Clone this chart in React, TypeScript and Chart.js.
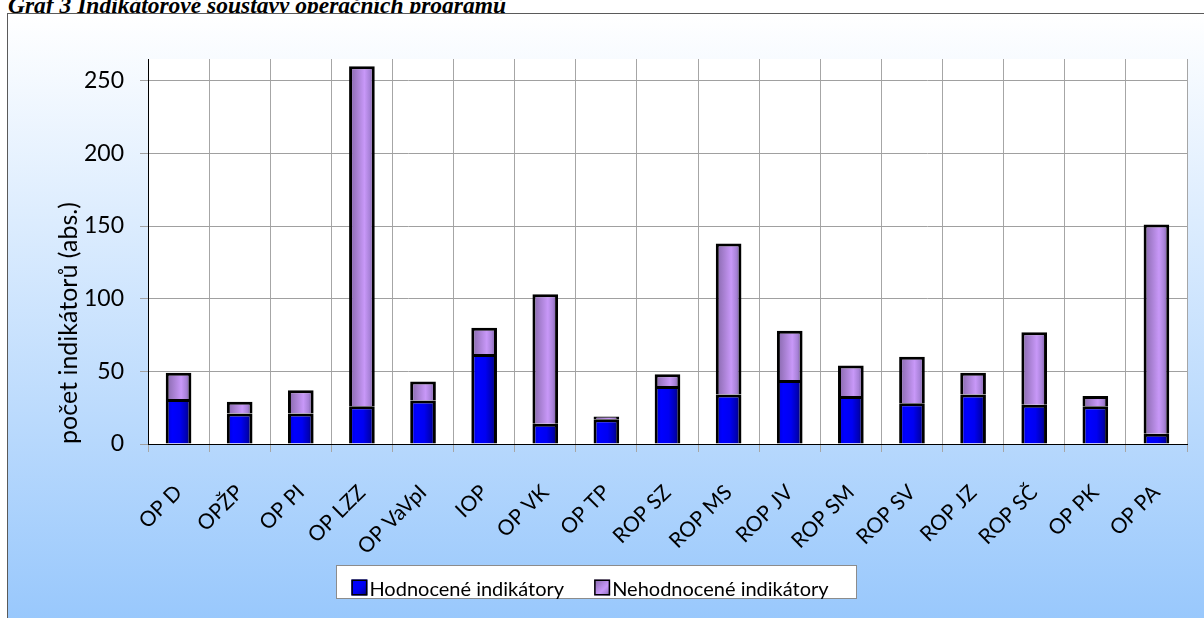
import React, { useEffect, useRef } from "react";
import { Chart, registerables } from "chart.js";

Chart.register(...registerables);

const categories = [
  "OP D", "OPŽP", "OP PI", "OP LZZ", "OP VaVpI", "IOP", "OP VK", "OP TP", "ROP SZ",
  "ROP MS", "ROP JV", "ROP SM", "ROP SV", "ROP JZ", "ROP SČ", "OP PK", "OP PA",
];
const evaluated = [31, 21, 21, 26, 30, 62, 14, 17, 40, 34, 44, 33, 28, 34, 27, 26, 7];
const notEvaluated = [18, 8, 16, 234, 13, 18, 89, 2, 8, 104, 34, 21, 32, 15, 50, 7, 144];
const yTicks = [0, 50, 100, 150, 200, 250];
const seriesNames = ["Hodnocené indikátory", "Nehodnocené indikátory"];
const titleText = "Graf 3 Indikátorové soustavy operačních programů";
const yTitle = "počet indikátorů (abs.)";

const BAR_PCT = 0.42;
const blueStops: [number, string][] = [
  [0, "#0000d0"], [0.25, "#0000ff"], [0.55, "#0000f2"], [0.8, "#0000b4"], [1, "#000058"],
];
const purpleStops: [number, string][] = [
  [0, "#8466a8"], [0.6, "#c898f8"], [0.8, "#a882d8"], [1, "#684f8c"],
];

function barFill(stops: [number, string][]) {
  return (ctx: any) => {
    const chart = ctx.chart;
    const xs = chart.scales && chart.scales.x;
    if (!xs || ctx.type !== "data" || !xs.width) return stops[1][1];
    const cx = xs.getPixelForValue(ctx.dataIndex);
    const w = (xs.width / categories.length) * BAR_PCT;
    const g = chart.ctx.createLinearGradient(cx - w / 2, 0, cx + w / 2, 0);
    stops.forEach(([o, c]) => g.addColorStop(o, c));
    return g;
  };
}

const plotBg = {
  id: "plotBg",
  beforeDraw(chart: any) {
    const { ctx, chartArea: a } = chart;
    ctx.save();
    ctx.fillStyle = "#ffffff";
    ctx.fillRect(a.left, a.top, a.right - a.left, a.bottom - a.top);
    ctx.restore();
  },
};

const boxLegend = {
  id: "boxLegend",
  afterDraw(chart: any) {
    const { ctx, chartArea: a } = chart;
    ctx.save();
    ctx.font = "20px Lato";
    const marker = 16;
    const gap = 2;
    const itemGap = 30;
    const widths = chart.data.datasets.map((d: any) => ctx.measureText(d.label).width);
    const contentW = widths.reduce((s: number, w: number) => s + marker + gap + w, 0) + itemGap * (widths.length - 1);
    const center = chart.width / 2 - 16;
    const cl = center - contentW / 2;
    const boxL = Math.round(cl - 15) + 0.5;
    const boxR = Math.round(cl + contentW + 27) + 0.5;
    const boxT = Math.round(a.bottom + 121) + 0.5;
    const boxH = 33;
    ctx.fillStyle = "#ffffff";
    ctx.fillRect(boxL, boxT, boxR - boxL, boxH);
    ctx.strokeStyle = "#8c8c8c";
    ctx.lineWidth = 1;
    ctx.strokeRect(boxL, boxT, boxR - boxL, boxH);
    let x = cl;
    const stopsArr = [blueStops, purpleStops];
    chart.data.datasets.forEach((d: any, i: number) => {
      const my = boxT + 14;
      const g = ctx.createLinearGradient(x, my, x + marker, my + marker);
      stopsArr[i].forEach(([o, c]) => g.addColorStop(o, c));
      ctx.fillStyle = g;
      ctx.fillRect(x, my, marker, marker);
      ctx.strokeStyle = "#000";
      ctx.lineWidth = 1.5;
      ctx.strokeRect(x + 0.75, my + 0.75, marker - 1.5, marker - 1.5);
      ctx.fillStyle = "#000";
      ctx.textBaseline = "alphabetic";
      ctx.textAlign = "left";
      ctx.fillText(d.label, x + marker + gap, boxT + 30);
      x += marker + gap + widths[i] + itemGap;
    });
    ctx.restore();
  },
};

export default function App() {
  const ref = useRef<HTMLCanvasElement>(null);
  useEffect(() => {
    if (!ref.current) return;
    const chart = new Chart(ref.current, {
      type: "bar",
      data: {
        labels: categories,
        datasets: [
          {
            label: seriesNames[0],
            data: evaluated,
            backgroundColor: barFill(blueStops),
            borderColor: "#000000",
            borderWidth: 3,
            barPercentage: BAR_PCT,
            categoryPercentage: 1,
          },
          {
            label: seriesNames[1],
            data: notEvaluated,
            backgroundColor: barFill(purpleStops),
            borderColor: "#000000",
            borderWidth: 3,
            barPercentage: BAR_PCT,
            categoryPercentage: 1,
          },
        ],
      },
      options: {
        animation: false,
        responsive: false,
        maintainAspectRatio: false,
        layout: { padding: { top: 45, right: 17, left: 0, bottom: 54 } },
        plugins: { legend: { display: false }, tooltip: { enabled: false } },
        scales: {
          x: {
            stacked: true,
            grid: { offset: true, color: "#a6a6a6", lineWidth: 1, tickLength: 8 },
            border: { color: "#000000", width: 1 },
            ticks: {
              autoSkip: false,
              maxRotation: 45,
              minRotation: 45,
              color: "#000000",
              padding: 28,
              font: { family: "Lato", size: 21 },
            },
            afterFit: (s: any) => { s.height = 120; },
          },
          y: {
            stacked: true,
            min: 0,
            max: 265,
            afterBuildTicks: (s: any) => { s.ticks = yTicks.map((v) => ({ value: v })); },
            ticks: {
              color: "#000000",
              padding: 16,
              font: { family: "Lato", size: 23 },
            },
            grid: { color: "#a0a0a0", lineWidth: 1, tickLength: 8 },
            border: { color: "#000000", width: 1 },
            title: {
              display: true,
              text: yTitle,
              align: "start",
              color: "#000000",
              font: { family: "Lato", size: 25 },
              padding: { top: 46, bottom: 0 },
            },
            afterFit: (s: any) => { s.width = 140; },
          },
        },
      },
      plugins: [plotBg, boxLegend],
    });
    return () => chart.destroy();
  }, []);

  return (
    <>
      <div
        style={{
          position: "absolute",
          left: 8,
          top: -8,
          font: "italic bold 23.5px 'Liberation Serif', serif",
          color: "#000",
          whiteSpace: "nowrap",
        }}
      >
        {titleText}
      </div>
      <div
        style={{
          position: "absolute",
          left: 7,
          top: 13,
          width: 1197,
          height: 605,
          boxSizing: "border-box",
          borderLeft: "1px solid #5a5a5a",
          borderTop: "1px solid #5a5a5a",
          background: "linear-gradient(#ffffff, #99c8fc)",
          overflow: "hidden",
        }}
      >
        <canvas ref={ref} width={1196} height={604} style={{ display: "block", width: 1196, height: 604 }} />
      </div>
    </>
  );
}
